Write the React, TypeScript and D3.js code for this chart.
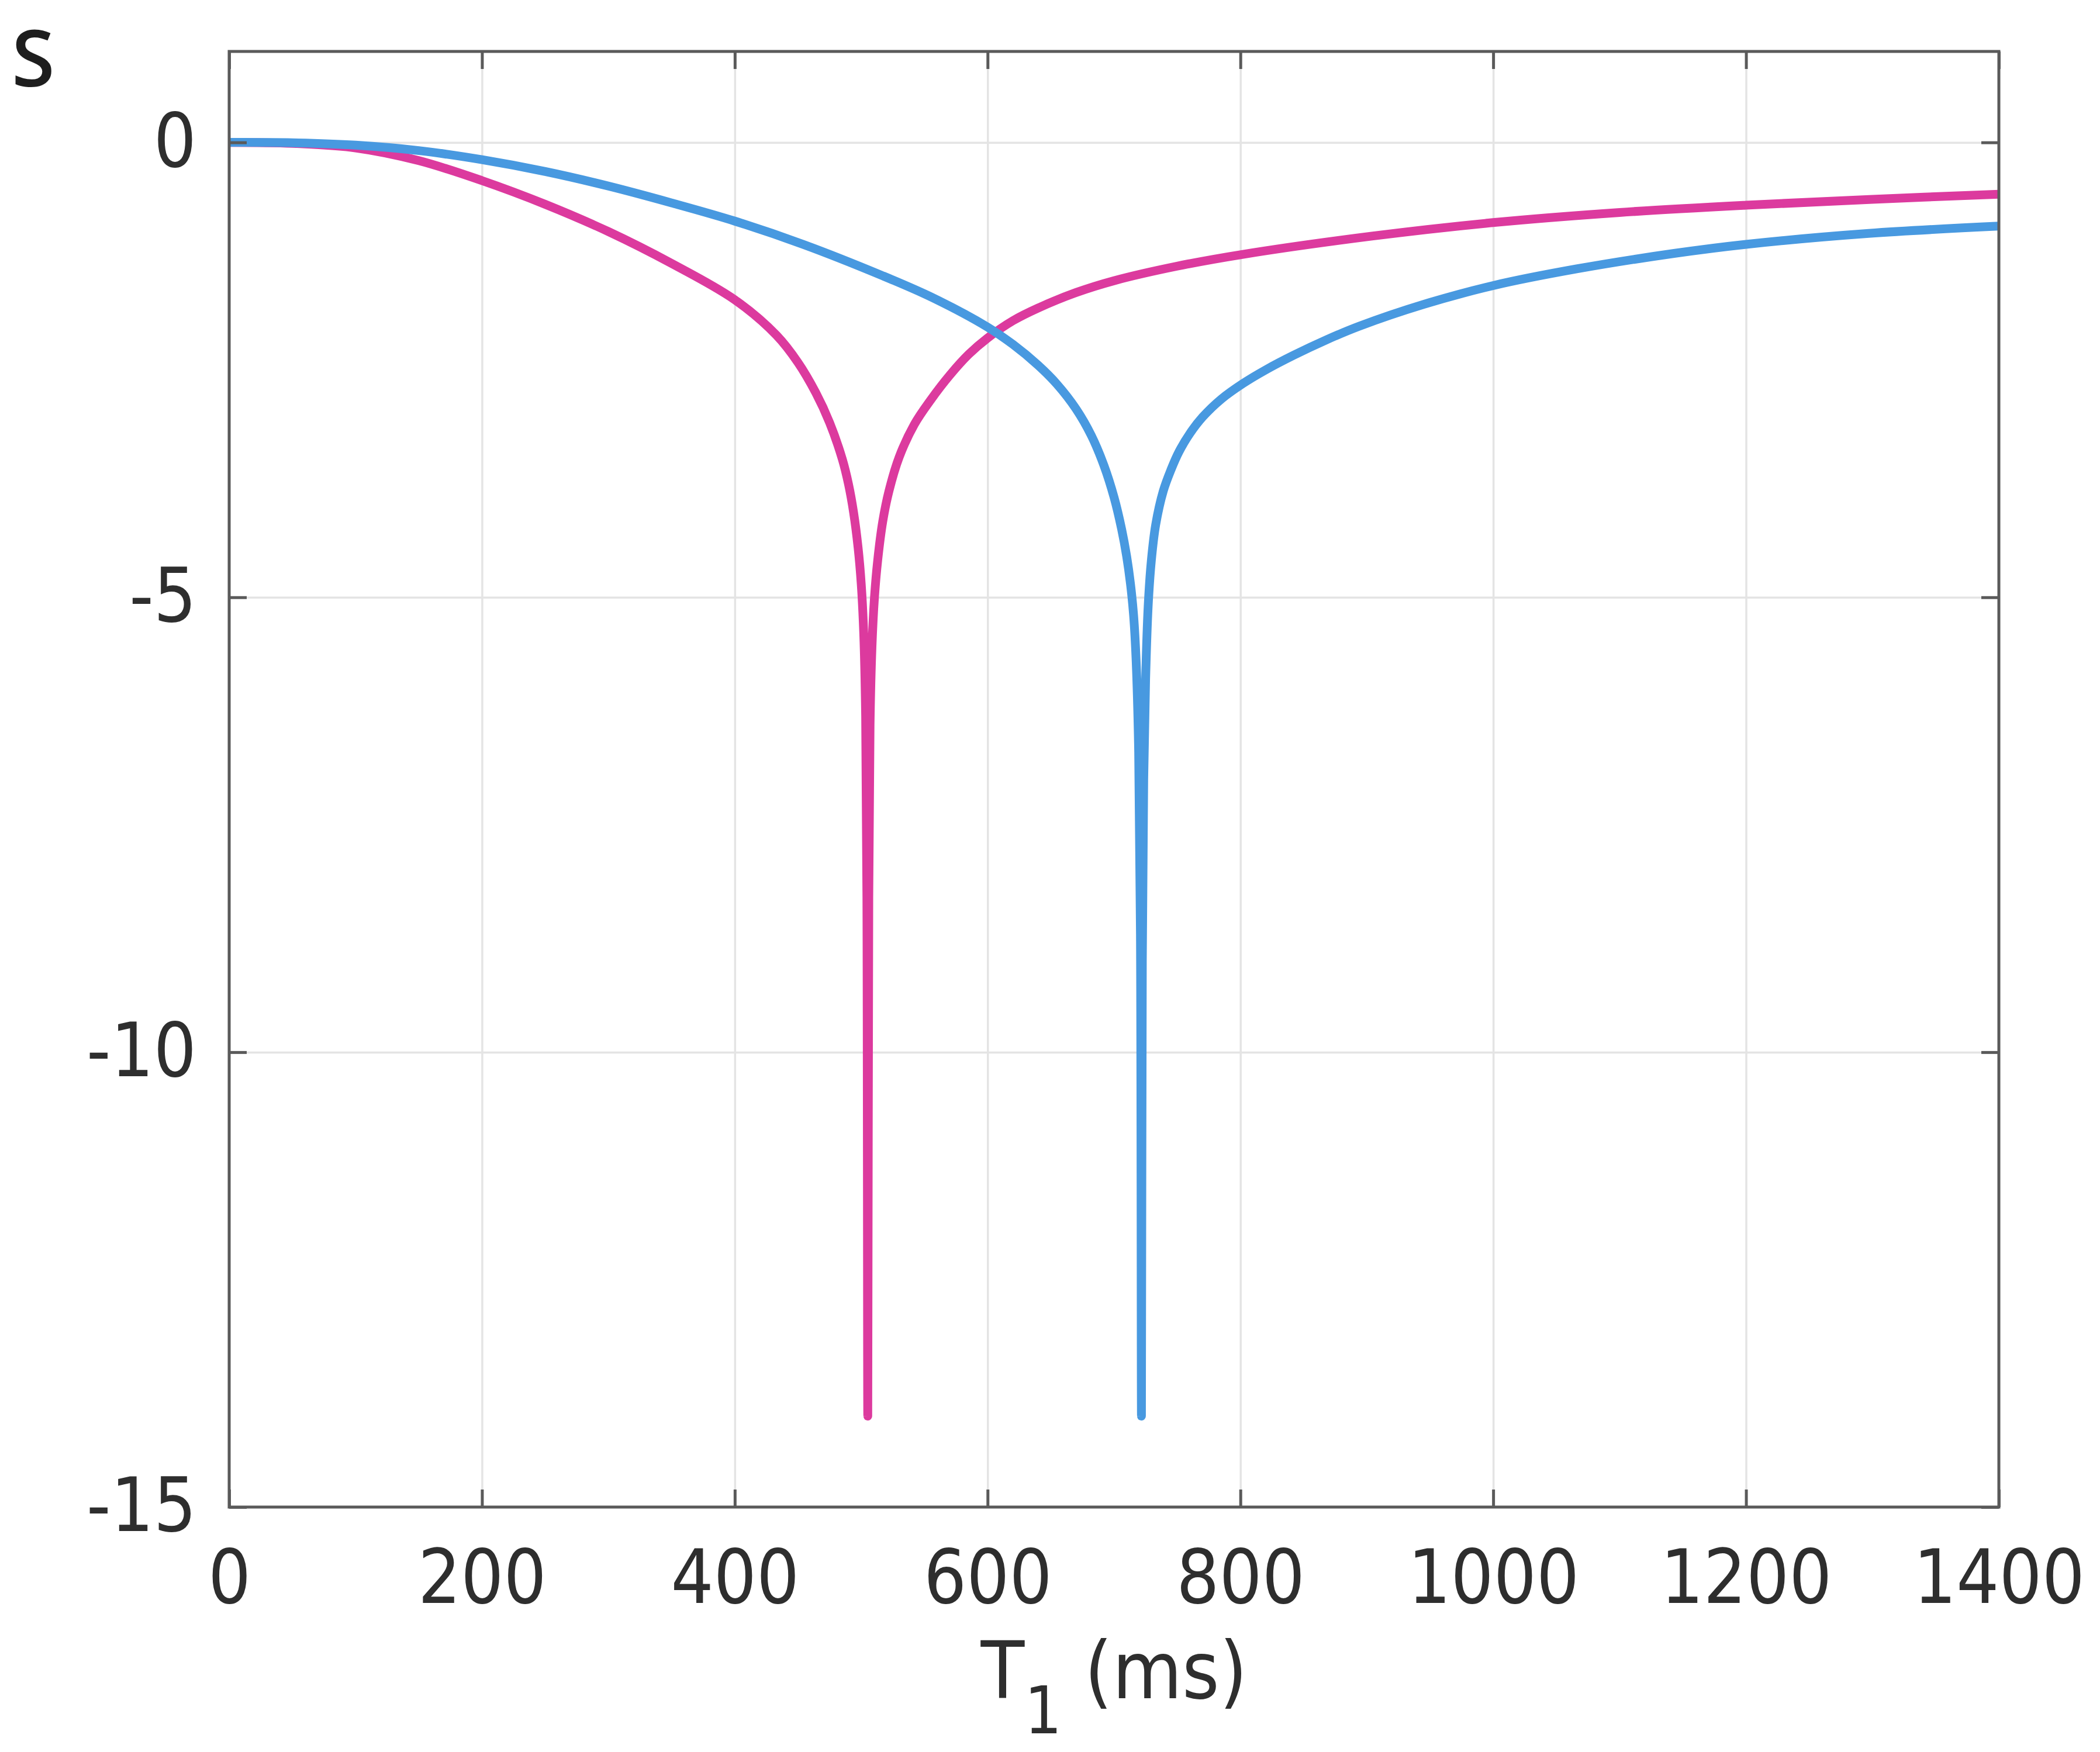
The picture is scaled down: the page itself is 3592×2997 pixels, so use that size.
import { useEffect, useRef } from "react";
import * as d3 from "d3";

// axis ticks
const xTicks = [0, 200, 400, 600, 800, 1000, 1200, 1400];
const yTicks = [-15, -10, -5, 0];

// magenta curve
const magentaT1 = [
	0, 50, 100, 150, 200, 250, 300, 350, 400, 433, 450, 464, 475, 485, 490, 494,
	497.5, 500, 502, 503.5, 504.5, 505.2, 506, 507, 508.5, 510.5, 513, 517, 522, 530,
	542, 555, 570, 585, 600, 620, 640, 670, 700, 750, 802, 904, 1001, 1100, 1200,
	1300, 1400,
];
const magentaS = [
	0, -0.01, -0.06, -0.2, -0.42, -0.68, -0.98, -1.33, -1.73, -2.12, -2.42, -2.75,
	-3.08, -3.48, -3.76, -4.07, -4.45, -4.85, -5.4, -6.3, -8.3, -14, -8.3, -6.4,
	-5.55, -5.0, -4.6, -4.17, -3.83, -3.46, -3.1, -2.83, -2.56, -2.33, -2.15, -1.96,
	-1.82, -1.65, -1.52, -1.36, -1.23, -1.03, -0.88, -0.77, -0.69, -0.625, -0.57,
];

// blue curve
const blueT1 = [
	0, 50, 100, 150, 200, 250, 300, 350, 400, 454, 516, 557, 600, 620, 640, 655,
	670, 682, 692, 700, 706, 710, 713, 715.5, 717.5, 719.5, 720.9, 721.7, 722.4,
	723.5, 725, 727, 729.5, 733, 739, 745, 751.4, 760, 770, 785, 802, 820, 842, 868,
	894, 945, 1001, 1066, 1143, 1200, 1297, 1400,
];
const blueS = [
	0, -0.004, -0.03, -0.09, -0.19, -0.32, -0.48, -0.665, -0.865, -1.12, -1.46,
	-1.71, -2.03, -2.22, -2.45, -2.66, -2.93, -3.22, -3.55, -3.9, -4.25, -4.55,
	-4.85, -5.2, -5.7, -6.7, -8.7, -14, -9, -7, -5.9, -5.1, -4.6, -4.2, -3.83, -3.6,
	-3.4, -3.2, -3.02, -2.82, -2.65, -2.5, -2.34, -2.17, -2.02, -1.78, -1.57, -1.39,
	-1.22, -1.12, -1.0, -0.92,
];

const series = [
	{ name: "magenta", t1: magentaT1, s: magentaS, color: "#dc3a9e" },
	{ name: "blue", t1: blueT1, s: blueS, color: "#4899e0" },
];

export default function App() {
	const svgRef = useRef<SVGSVGElement>(null);

	useEffect(() => {
		if (!svgRef.current) return;
		const svg = d3.select(svgRef.current);
		svg.selectAll("*").remove();

		const left = 392;
		const right = 3419;
		const top = 88;
		const bottom = 2578;
		const font = "'DejaVu Sans Condensed', 'DejaVu Sans', sans-serif";
		const fmt = (d: any) => String(d);

		const x = d3.scaleLinear().domain([0, 1400]).range([left, right]);
		const y = d3.scaleLinear().domain([-15, 1]).range([bottom, top]);

		// grid
		svg
			.append("g")
			.attr("transform", `translate(0,${bottom})`)
			.call(
				d3
					.axisBottom(x)
					.tickValues(xTicks)
					.tickSize(-(bottom - top))
					.tickFormat(() => ""),
			)
			.call((g) => g.select(".domain").remove())
			.call((g) =>
				g.selectAll("line").attr("stroke", "#e4e4e4").attr("stroke-width", 3.5),
			);
		svg
			.append("g")
			.attr("transform", `translate(${left},0)`)
			.call(
				d3
					.axisLeft(y)
					.tickValues(yTicks)
					.tickSize(-(right - left))
					.tickFormat(() => ""),
			)
			.call((g) => g.select(".domain").remove())
			.call((g) =>
				g.selectAll("line").attr("stroke", "#e4e4e4").attr("stroke-width", 3.5),
			);

		// curves
		svg
			.append("clipPath")
			.attr("id", "plot-clip")
			.append("rect")
			.attr("x", left)
			.attr("y", top)
			.attr("width", right - left)
			.attr("height", bottom - top);

		const line = d3
			.line<[number, number]>()
			.x((d) => x(d[0]))
			.y((d) => y(d[1]))
			.curve(d3.curveCatmullRom.alpha(0.5));

		svg
			.append("g")
			.attr("clip-path", "url(#plot-clip)")
			.selectAll("path")
			.data(series)
			.join("path")
			.attr("fill", "none")
			.attr("stroke", (d) => d.color)
			.attr("stroke-width", 15)
			.attr("stroke-linecap", "round")
			.attr("stroke-linejoin", "round")
			.attr("d", (d) => line(d.t1.map((t, i) => [t, d.s[i]] as [number, number])));

		// axes with inward ticks
		const axisColor = "#5a5a5a";
		const styleAxis = (g: any) => {
			g.select(".domain").remove();
			g.selectAll("line").attr("stroke", axisColor).attr("stroke-width", 5);
			g.selectAll("text")
				.attr("fill", "#2e2e2e")
				.attr("font-family", font)
				.attr("font-size", 128);
		};

		svg
			.append("g")
			.attr("transform", `translate(0,${bottom})`)
			.call(
				d3.axisBottom(x).tickValues(xTicks).tickFormat(fmt).tickSize(-30).tickPadding(73),
			)
			.call(styleAxis);
		svg
			.append("g")
			.attr("transform", `translate(0,${top})`)
			.call(
				d3
					.axisTop(x)
					.tickValues(xTicks)
					.tickSize(-30)
					.tickFormat(() => ""),
			)
			.call(styleAxis);
		svg
			.append("g")
			.attr("transform", `translate(${left},0)`)
			.call(
				d3.axisLeft(y).tickValues(yTicks).tickFormat(fmt).tickSize(-30).tickPadding(56),
			)
			.call(styleAxis);
		svg
			.append("g")
			.attr("transform", `translate(${right},0)`)
			.call(
				d3
					.axisRight(y)
					.tickValues(yTicks)
					.tickSize(-30)
					.tickFormat(() => ""),
			)
			.call(styleAxis);

		// box
		svg
			.append("rect")
			.attr("x", left)
			.attr("y", top)
			.attr("width", right - left)
			.attr("height", bottom - top)
			.attr("fill", "none")
			.attr("stroke", axisColor)
			.attr("stroke-width", 5);

		// x label
		const xl = svg
			.append("text")
			.attr("x", (left + right) / 2)
			.attr("y", 2905)
			.attr("text-anchor", "middle")
			.attr("font-family", font)
			.attr("font-size", 136)
			.attr("fill", "#2e2e2e");
		xl.append("tspan").text("T");
		xl.append("tspan").attr("dy", 60).attr("font-size", 112).text("1");
		xl.append("tspan").attr("dy", -60).text(" (ms)");

		// y label
		svg
			.append("text")
			.attr("x", 20)
			.attr("y", 148)
			.attr("font-family", "'Open Sans', 'Noto Sans', sans-serif")
			.attr("font-weight", 600)
			.attr("font-size", 134)
			.attr("fill", "#1e1e1e")
			.text("S");
	}, []);

	return (
		<svg
			ref={svgRef}
			width={3592}
			height={2997}
			style={{ position: "absolute", left: 0, top: 0, background: "#fff" }}
		/>
	);
}
